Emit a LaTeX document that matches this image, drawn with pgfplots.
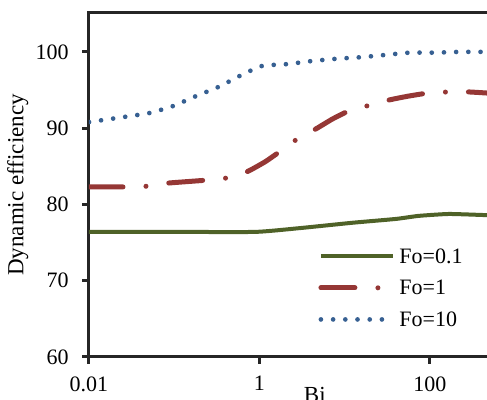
\documentclass[border=0pt]{standalone}
\usepackage{pgfplots}
\pgfplotsset{compat=1.18}
\usepackage{fontspec}
\setmainfont{Liberation Serif}

\definecolor{foA}{RGB}{79,98,40}
\definecolor{foB}{RGB}{149,55,53}
\definecolor{foC}{RGB}{55,96,146}
\definecolor{axgray}{RGB}{38,38,38}

\begin{document}
\begin{tikzpicture}
\begin{axis}[
    name=ax,
    scale only axis,
    width=213pt, height=172pt,
    xmode=log, xmin=0.01, xmax=1000,
    ymin=60, ymax=105.1,
    xtick={0.01,1,100}, xticklabels={0.01,1,100},
    ytick={60,70,80,90,100},
    xminorticks=false,
    tick pos=left,
    tick align=outside, major tick length=3.5pt,
    axis line style={axgray, line width=1.5pt},
    every tick/.style={axgray, line width=1.5pt},
    /pgf/number format/assume math mode=true,
    tick label style={font=\fontsize{11}{13}\selectfont, inner sep=0pt},
    yticklabel style={anchor=east, xshift=-6.5pt},
    xticklabel style={anchor=north, yshift=-6pt},
    label style={font=\fontsize{11.5}{13}\selectfont},
    ylabel={Dynamic efficiency},
    ylabel style={at={(axis description cs:-0.167,0.5)}, anchor=center},
    xlabel={Bi},
    xlabel style={at={(axis description cs:0.53,-0.087)}, anchor=north, inner sep=0pt},
    legend image code/.code={\draw[#1] (0pt,0pt) -- (36pt,0pt);},
    legend style={at={(axis description cs:0.5376,0.34)}, anchor=north west,
        draw=none, fill=none, inner sep=0pt,
        font=\fontsize{11}{13}\selectfont,
        nodes={text height=7pt, text depth=0pt, inner ysep=4.4pt}},
    legend cell align=left,
]
\addplot[foA, line width=2pt, smooth, tension=0.3] coordinates {
    (0.01,76.4) (0.1,76.4) (0.9,76.4) (3,76.9) (12.4,77.6) (40,78.1)
    (74,78.5) (168,78.75) (458,78.6) (1000,78.5)
};
\addlegendentry{Fo=0.1}
\addplot[foB, line width=2.5pt, line cap=round, smooth, tension=0.3,
    dash pattern=on 17pt off 11.5pt on 0pt off 11.5pt] coordinates {
    (0.01,82.3) (0.028,82.3) (0.049,82.4) (0.085,82.8) (0.25,83.2)
    (0.43,83.5) (0.72,84.3) (1.17,85.6) (1.77,87.0) (2.8,88.6) (4.6,89.9)
    (7.2,91.2) (11.4,92.3) (19.6,93.0) (33.5,93.7) (56,94.2) (95,94.6)
    (166,94.75) (284,94.75) (480,94.6) (1000,94.4)
};
\addlegendentry{Fo=1}
\addplot[foC, line width=2.35pt, line cap=round, smooth, tension=0.3,
    dash pattern=on 0pt off 6.1pt] coordinates {
    (0.01,90.8) (0.027,91.5) (0.052,92.0) (0.097,92.9) (0.18,94.2)
    (0.33,95.4) (0.60,96.9) (0.81,97.6) (1.11,98.2) (2.13,98.4) (4.1,98.8)
    (8.1,99.1) (15.4,99.3) (30,99.6) (58,99.9) (115,99.9) (219,100.0)
    (431,100.0) (1000,100.0)
};
\addlegendentry{Fo=10}
\end{axis}
\pgfresetboundingbox
\path[use as bounding box] ([shift={(-44.5pt,-21.5pt)}]ax.south west)
    rectangle ([shift={(199pt,178.5pt)}]ax.south west);
\end{tikzpicture}
\end{document}
